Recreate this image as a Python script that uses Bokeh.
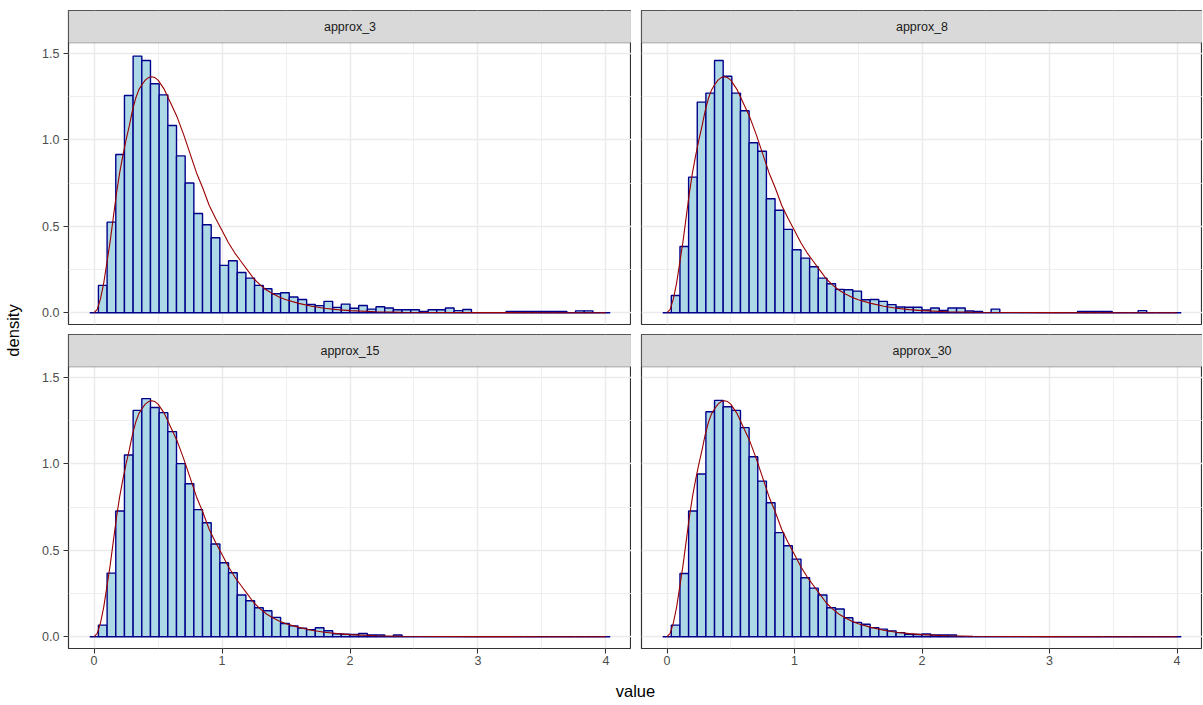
import math
from bokeh.plotting import figure
from bokeh.models import Range1d, FixedTicker, BoxAnnotation, Label, PrintfTickFormatter
from bokeh.layouts import row, column
from bokeh.embed import file_html
from bokeh.resources import INLINE
from bokeh.core.properties import value

# ---------------- data ----------------
PANELS = ["approx_3", "approx_8", "approx_15", "approx_30"]
N_BINS = 60
BIN_WIDTH = 4 / 59  # bins centred on k*width, k = 0..59

approx_3 = [0, 0.158, 0.524, 0.915, 1.256, 1.484, 1.459, 1.324, 1.260, 1.083,
            0.907, 0.750, 0.574, 0.509, 0.434, 0.274, 0.301, 0.233, 0.200, 0.158,
            0.139, 0.110, 0.116, 0.091, 0.077, 0.048, 0.041, 0.066, 0.031, 0.050,
            0.026, 0.042, 0.021, 0.035, 0.027, 0.017, 0.017, 0.017, 0.008, 0.017,
            0.017, 0.027, 0.012, 0.019, 0, 0, 0, 0, 0.008, 0.008,
            0.008, 0.008, 0.008, 0.008, 0.008, 0, 0.011, 0.011, 0, 0]
approx_8 = [0, 0.100, 0.383, 0.784, 1.218, 1.270, 1.459, 1.368, 1.270, 1.168,
            0.983, 0.934, 0.659, 0.593, 0.482, 0.364, 0.316, 0.266, 0.200, 0.168,
            0.135, 0.133, 0.125, 0.075, 0.077, 0.066, 0.047, 0.033, 0.032, 0.032,
            0.016, 0.027, 0.013, 0.027, 0.027, 0.010, 0.008, 0, 0.021, 0,
            0, 0, 0, 0, 0, 0, 0, 0, 0.008, 0.008,
            0.008, 0.008, 0, 0, 0, 0.012, 0, 0, 0, 0]
approx_15 = [0, 0.067, 0.368, 0.727, 1.051, 1.309, 1.377, 1.326, 1.296, 1.186,
             1.001, 0.885, 0.735, 0.659, 0.536, 0.428, 0.370, 0.241, 0.208, 0.168,
             0.150, 0.112, 0.077, 0.063, 0.050, 0.041, 0.052, 0.035, 0.017, 0.014,
             0.013, 0.019, 0.010, 0.010, 0, 0.010, 0, 0, 0, 0,
             0, 0, 0, 0, 0, 0, 0, 0, 0, 0,
             0, 0, 0, 0, 0, 0, 0, 0, 0, 0]
approx_30 = [0, 0.067, 0.366, 0.727, 0.941, 1.301, 1.367, 1.330, 1.309, 1.209,
             1.041, 0.900, 0.775, 0.602, 0.526, 0.449, 0.341, 0.281, 0.241, 0.168,
             0.160, 0.110, 0.083, 0.072, 0.053, 0.044, 0.034, 0.024, 0.014, 0.013,
             0.016, 0.010, 0.010, 0.010, 0, 0, 0, 0, 0, 0,
             0, 0, 0, 0, 0, 0, 0, 0, 0, 0,
             0, 0, 0, 0, 0, 0, 0, 0, 0, 0]
HEIGHTS = [approx_3, approx_8, approx_15, approx_30]

curve_x = [0.00, 0.025, 0.05, 0.075, 0.10, 0.125, 0.15, 0.175, 0.20, 0.225,
           0.25, 0.275, 0.30, 0.325, 0.35, 0.375, 0.40, 0.425, 0.45, 0.475,
           0.50, 0.55, 0.60, 0.65, 0.70, 0.75, 0.80, 0.85, 0.90, 0.95,
           1.00, 1.05, 1.10, 1.15, 1.20, 1.25, 1.30, 1.35, 1.40, 1.45,
           1.50, 1.60, 1.70, 1.80, 1.90, 2.00, 2.20, 2.40, 2.70, 3.00,
           3.50, 4.00]
curve_y = [0.000, 0.020, 0.080, 0.170, 0.290, 0.410, 0.550, 0.690, 0.810, 0.910,
           1.000, 1.080, 1.170, 1.240, 1.290, 1.320, 1.345, 1.360, 1.365, 1.360,
           1.345, 1.290, 1.210, 1.130, 1.030, 0.920, 0.810, 0.720, 0.620, 0.545,
           0.475, 0.405, 0.345, 0.295, 0.245, 0.195, 0.160, 0.130, 0.108, 0.090,
           0.075, 0.054, 0.038, 0.026, 0.018, 0.012, 0.006, 0.003, 0.0015, 0.0008,
           0.0002, 0.000]

X_TICKS = [0, 1, 2, 3, 4]
X_MINOR = [0.5, 1.5, 2.5, 3.5]
Y_TICKS = [0, 0.5, 1.0, 1.5]
Y_MINOR = [0.25, 0.75, 1.25]

# ---------------- styling ----------------
FONT = "Liberation Sans"
Y0, YTOP = -0.068, 1.561
FRAME_H = 314
STRIP_PX = 32.3
UNIT_PER_PX = (YTOP - Y0) / (FRAME_H - STRIP_PX)
YEND = YTOP + STRIP_PX * UNIT_PER_PX


def make_panel(idx, width, height, left, top, bottom, show_x, show_y):
    p = figure(width=width, height=height,
               x_range=Range1d(-0.2, 4.2), y_range=Range1d(Y0, YEND),
               output_backend="svg", toolbar_location=None,
               x_axis_location="below" if show_x else None,
               y_axis_location="left" if show_y else None,
               min_border_left=left, min_border_right=0,
               min_border_top=top, min_border_bottom=bottom,
               background_fill_color="white", border_fill_color="white",
               outline_line_color="#333333", outline_line_width=1.2)
    xt = FixedTicker(ticks=X_TICKS, minor_ticks=X_MINOR)
    yt = FixedTicker(ticks=Y_TICKS, minor_ticks=Y_MINOR)
    for g, t in ((p.xgrid, xt), (p.ygrid, yt)):
        g.ticker = t
        g.grid_line_color = "#EBEBEB"
        g.grid_line_width = 1.5
        g.minor_grid_line_color = "#EBEBEB"
        g.minor_grid_line_width = 0.8
    axes = []
    if show_x:
        p.xaxis.ticker = xt
        axes += list(p.xaxis)
    if show_y:
        p.yaxis.ticker = yt
        p.yaxis.formatter = PrintfTickFormatter(format="%.1f")
        axes += list(p.yaxis)
    for ax in axes:
        ax.axis_line_color = None
        ax.major_tick_line_color = "#333333"
        ax.major_tick_line_width = 1.1
        ax.major_tick_out = 5
        ax.major_tick_in = 0
        ax.minor_tick_line_color = None
        ax.major_label_text_font = FONT
        ax.major_label_text_font_size = "12.5px"
        ax.major_label_text_color = "#4D4D4D"
    if show_x:
        p.xaxis.major_label_standoff = 2
    if show_y:
        p.yaxis.major_label_standoff = 4

    heights = HEIGHTS[idx]
    lefts = [(k - 0.5) * BIN_WIDTH for k in range(N_BINS)]
    rights = [(k + 0.5) * BIN_WIDTH for k in range(N_BINS)]
    p.quad(left=lefts, right=rights, bottom=0, top=heights,
           fill_color="#ADD8E6", line_color="#00008B", line_width=1.4)
    p.line(curve_x, curve_y, line_color="#9A0000", line_width=1.1)

    strip = BoxAnnotation(bottom=YTOP, top=YEND, left=-0.2, right=4.2,
                          fill_color="#D9D9D9", fill_alpha=1.0,
                          line_color="#333333", line_width=1.2)
    p.add_layout(strip)
    lab = Label(x=2.0, y=(YTOP + YEND) / 2, text=PANELS[idx],
                text_align="center", text_baseline="middle",
                text_font=FONT, text_font_size="12.5px",
                text_color="#1A1A1A")
    p.add_layout(lab)
    return p


# page has no margin: frames at x 68-631 / 641-1202, y 10-324 / 334-648
p1 = make_panel(0, 597, 329, 34, 10, 5, False, True)
p2 = make_panel(1, 571, 329, 10, 10, 5, False, False)
p3 = make_panel(2, 597, 346, 34, 5, 27, True, True)
p4 = make_panel(3, 571, 346, 10, 5, 27, True, False)


def text_fig(width, height, x, y, txt, angle):
    f = figure(width=width, height=height, x_range=Range1d(0, width),
               y_range=Range1d(0, height), output_backend="svg",
               toolbar_location=None, x_axis_location=None,
               y_axis_location=None, min_border=0,
               outline_line_color=None, background_fill_color="white",
               border_fill_color="white")
    f.xgrid.grid_line_color = None
    f.ygrid.grid_line_color = None
    f.text(x=[x], y=[y], text=[txt], angle=angle,
           text_align="center", text_baseline="middle",
           text_font=value(FONT), text_font_size="16.5px", text_color="black")
    return f


dens = text_fig(34, 705, 12, 705 - 330, "density", math.pi / 2)
val = text_fig(1168, 30, 601, 15, "value", 0)

layout = row(dens, column(row(p1, p2), row(p3, p4), val))

open("out.html", "w").write(file_html(layout, INLINE))
